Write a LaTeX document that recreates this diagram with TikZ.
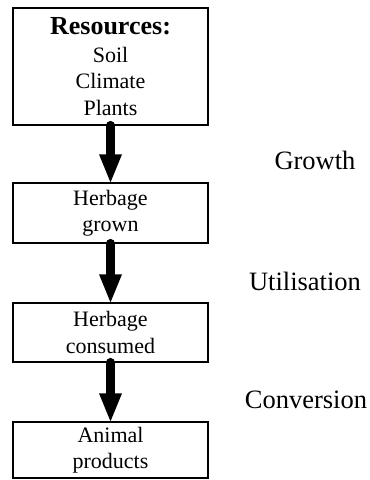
\documentclass[tikz,border=0pt]{standalone}
\usepackage{fontspec}
\setmainfont{Liberation Serif}
\usetikzlibrary{arrows.meta}
\begin{document}
\begin{tikzpicture}[x=1pt,y=-1pt,
  box/.style={draw, line width=1.3pt, minimum width=195pt, inner sep=0pt, align=center, font=\fontsize{22}{26.5}\selectfont},
  flow/.style={line width=9.5pt, line cap=round, -{Triangle[width=23pt,length=28pt,line width=0pt]}},
  stage/.style={font=\fontsize{26.5}{30}\selectfont}]
\useasboundingbox (0,0) rectangle (370,480);
\node[box, minimum height=117pt] (res) at (110.5,66.5) {{\fontsize{26}{30}\selectfont\bfseries Resources:}\\[1pt]Soil\\Climate\\Plants};
\node[box, minimum height=60pt] (gro) at (110.5,213) {Herbage\\grown};
\node[box, minimum height=59pt] (con) at (110.5,332.5) {Herbage\\consumed};
\node[box, minimum height=56pt] (ani) at (110.5,450) {Animal\\products};
\draw[flow] (res.south) -- (gro.north);
\draw[flow] (gro.south) -- (con.north);
\draw[flow] (con.south) -- (ani.north);
\node[stage] (g) at (315,160) {Growth};
\node[stage] (u) at (305,281) {Utilisation};
\node[stage] (c) at (306,400) {Conversion};
\end{tikzpicture}
\end{document}
